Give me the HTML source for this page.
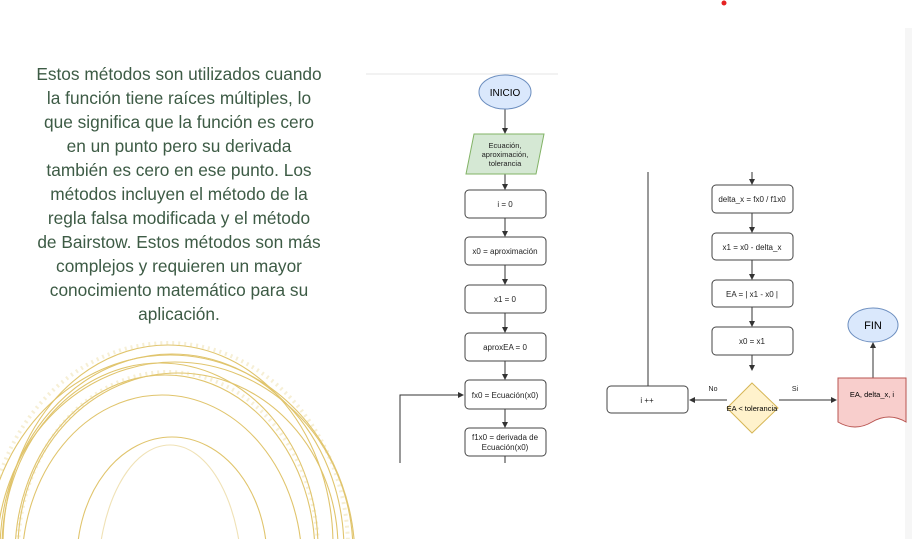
<!DOCTYPE html>
<html><head><meta charset="utf-8"><style>
html,body{margin:0;padding:0;width:912px;height:539px;overflow:hidden;background:#fff;}
.t{position:absolute;left:19px;top:62px;width:320px;text-align:center;font-family:"Liberation Sans",sans-serif;font-size:17.3px;line-height:24px;color:#3d5b45;white-space:nowrap;}
svg{position:absolute;left:0;top:0;overflow:hidden;}
</style></head><body>
<svg width="912" height="539" viewBox="0 0 912 539" font-family="Liberation Sans, sans-serif">
<defs><marker id="a" markerWidth="6" markerHeight="6" refX="5" refY="3" orient="auto"><path d="M0,0 L6,3 L0,6 z" fill="#333"/></marker></defs>
<rect x="905" y="28" width="7" height="511" fill="#f6f6f6"/>
<circle cx="724" cy="3" r="2.5" fill="#e52222"/>
<g fill="none" stroke="#d9b648" stroke-width="1.1" opacity="0.8">
<ellipse cx="168" cy="545" rx="165" ry="200"/>
<ellipse cx="172" cy="550" rx="172" ry="196"/>
<ellipse cx="160" cy="548" rx="158" ry="185"/>
<ellipse cx="175" cy="552" rx="178" ry="190"/>
<ellipse cx="165" cy="555" rx="150" ry="180"/>
<ellipse cx="170" cy="560" rx="185" ry="205"/>
<ellipse cx="162" cy="565" rx="140" ry="170"/>
<ellipse cx="178" cy="548" rx="160" ry="175"/>
<ellipse cx="172" cy="560" rx="95" ry="123"/>
<ellipse cx="170" cy="580" rx="72" ry="135" opacity="0.5"/>
</g>
<g fill="none" stroke="#e8d28a" stroke-width="4" stroke-dasharray="2 4" opacity="0.35">
<ellipse cx="168" cy="548" rx="180" ry="205"/>
<ellipse cx="168" cy="552" rx="150" ry="180"/>
</g>
<line x1="366" y1="74" x2="558" y2="74" stroke="#e6e6e6"/>
<g stroke="#333" stroke-width="1" fill="none">
<line x1="505" y1="109" x2="505" y2="133" marker-end="url(#a)"/>
<line x1="505" y1="174" x2="505" y2="189" marker-end="url(#a)"/>
<line x1="505" y1="218" x2="505" y2="236" marker-end="url(#a)"/>
<line x1="505" y1="265" x2="505" y2="284" marker-end="url(#a)"/>
<line x1="505" y1="313" x2="505" y2="332" marker-end="url(#a)"/>
<line x1="505" y1="361" x2="505" y2="379" marker-end="url(#a)"/>
<line x1="505" y1="409" x2="505" y2="427" marker-end="url(#a)"/>
<line x1="505" y1="456" x2="505" y2="463"/>
<polyline points="400,463 400,395 463,395" marker-end="url(#a)"/>
<line x1="752" y1="172" x2="752" y2="184" marker-end="url(#a)"/>
<line x1="752" y1="213" x2="752" y2="232" marker-end="url(#a)"/>
<line x1="752" y1="260" x2="752" y2="279" marker-end="url(#a)"/>
<line x1="752" y1="307" x2="752" y2="326" marker-end="url(#a)"/>
<line x1="752" y1="355" x2="752" y2="370" marker-end="url(#a)"/>
<line x1="727" y1="400" x2="690" y2="400" marker-end="url(#a)"/>
<line x1="779" y1="400" x2="836" y2="400" marker-end="url(#a)"/>
<line x1="873" y1="378" x2="873" y2="343" marker-end="url(#a)"/>
<line x1="648" y1="172" x2="648" y2="386"/>
</g>
<ellipse cx="505" cy="92" rx="26" ry="17" fill="#dae8fc" stroke="#6c8ebf"/>
<text x="505" y="96" font-size="10" text-anchor="middle">INICIO</text>
<polygon points="474,134 544,134 536,174 466,174" fill="#d5e8d4" stroke="#82b366"/>
<g font-size="7.5" text-anchor="middle" fill="#222">
<text x="505" y="148">Ecuación,</text><text x="505" y="157">aproximación,</text><text x="505" y="166">tolerancia</text>
</g>
<g fill="#fff" stroke="#444">
<rect x="465" y="190" width="81" height="28" rx="4"/>
<rect x="465" y="237" width="81" height="28" rx="4"/>
<rect x="465" y="285" width="81" height="28" rx="4"/>
<rect x="465" y="333" width="81" height="28" rx="4"/>
<rect x="465" y="380" width="81" height="29" rx="4"/>
<rect x="465" y="428" width="81" height="28" rx="4"/>
<rect x="712" y="185" width="81" height="28" rx="4"/>
<rect x="712" y="233" width="81" height="27" rx="4"/>
<rect x="712" y="280" width="81" height="27" rx="4"/>
<rect x="712" y="327" width="81" height="28" rx="4"/>
<rect x="607" y="386" width="81" height="27" rx="4"/>
</g>
<g font-size="8" text-anchor="middle" fill="#222">
<text x="505" y="207">i = 0</text>
<text x="505" y="254">x0 = aproximación</text>
<text x="505" y="302">x1 = 0</text>
<text x="505" y="350">aproxEA = 0</text>
<text x="505" y="398">fx0 = Ecuación(x0)</text>
<text x="505" y="440">f1x0 = derivada de</text>
<text x="505" y="450">Ecuación(x0)</text>
<text x="752" y="202">delta_x = fx0 / f1x0</text>
<text x="752" y="250">x1 = x0 - delta_x</text>
<text x="752" y="297">EA = | x1 - x0 |</text>
<text x="752" y="344">x0 = x1</text>
<text x="647" y="403">i ++</text>
<text x="713" y="391" font-size="7">No</text>
<text x="795" y="391" font-size="7">Si</text>
</g>
<polygon points="752,383 778,408 752,433 727,408" fill="#fff2cc" stroke="#d6b656"/>
<text x="752" y="411" font-size="7.5" text-anchor="middle">EA &lt; tolerancia</text>
<path d="M838,378 H906 V422 Q889,412 872,422 Q855,432 838,422 Z" fill="#f8cecc" stroke="#b85450"/>
<text x="872" y="397" font-size="7.5" text-anchor="middle">EA, delta_x, i</text>
<ellipse cx="873" cy="325" rx="25" ry="17" fill="#dae8fc" stroke="#6c8ebf"/>
<text x="873" y="329" font-size="11" text-anchor="middle">FIN</text>
</svg>
<div class="t">Estos métodos son utilizados cuando<br>la función tiene raíces múltiples, lo<br>que significa que la función es cero<br>en un punto pero su derivada<br>también es cero en ese punto. Los<br>métodos incluyen el método de la<br>regla falsa modificada y el método<br>de Bairstow. Estos métodos son más<br>complejos y requieren un mayor<br>conocimiento matemático para su<br>aplicación.</div>
</body></html>
